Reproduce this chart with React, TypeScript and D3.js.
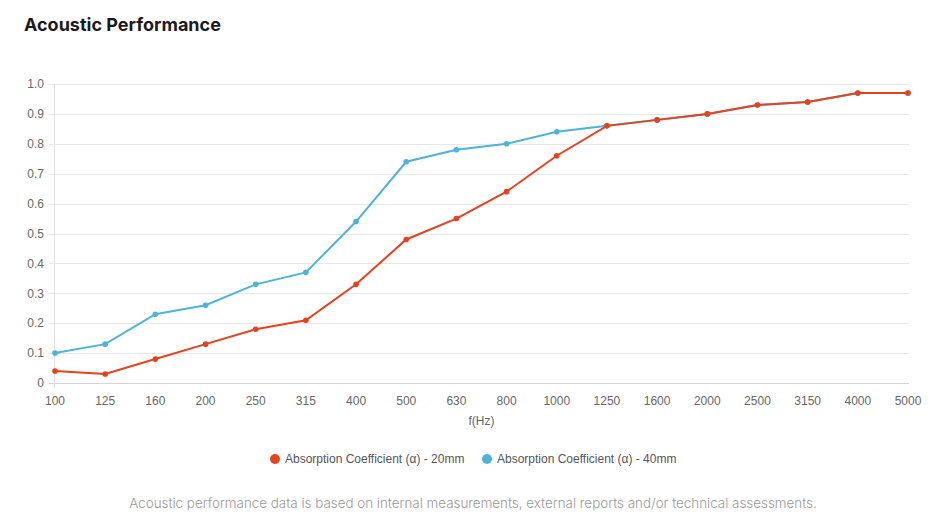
import React, { useRef, useEffect } from 'react';
import * as d3 from 'd3';

const frequencies = ['100', '125', '160', '200', '250', '315', '400', '500', '630', '800', '1000', '1250', '1600', '2000', '2500', '3150', '4000', '5000'];
const absorption20mm = [0.04, 0.03, 0.08, 0.13, 0.18, 0.21, 0.33, 0.48, 0.55, 0.64, 0.76, 0.86, 0.88, 0.90, 0.93, 0.94, 0.97, 0.97];
const absorption40mm = [0.10, 0.13, 0.23, 0.26, 0.33, 0.37, 0.54, 0.74, 0.78, 0.80, 0.84, 0.86, 0.88, 0.90, 0.93, 0.94, 0.97, 0.97];
const yTicks = [0, 0.1, 0.2, 0.3, 0.4, 0.5, 0.6, 0.7, 0.8, 0.9, 1.0];
const seriesNames = ['Absorption Coefficient (α) - 20mm', 'Absorption Coefficient (α) - 40mm'];
const seriesColors = ['#e8411c', '#4cb3dc'];

const WIDTH = 943;
const HEIGHT = 524;

const App: React.FC = () => {
  const svgRef = useRef<SVGSVGElement>(null);

  useEffect(() => {
    if (!svgRef.current) return;
    const svg = d3.select(svgRef.current);
    svg.selectAll('*').remove();

    const left = 55;
    const right = 908;
    const top = 84;
    const bottom = 383;

    const x = d3.scalePoint<string>().domain(frequencies).range([left, right]);
    const y = d3.scaleLinear().domain([0, 1]).range([bottom, top]);

    // Title
    svg.append('text')
      .attr('x', 24)
      .attr('y', 31)
      .attr('font-family', 'Inter, sans-serif')
      .attr('font-weight', 700)
      .attr('font-size', '18px')
      .attr('fill', '#1a1a1a')
      .text('Acoustic Performance');

    // Grid
    const grid = svg.append('g');
    grid.selectAll('line')
      .data(yTicks)
      .enter()
      .append('line')
      .attr('x1', left - 6)
      .attr('x2', right + 1)
      .attr('y1', (d) => Math.round(y(d)) + 0.5)
      .attr('y2', (d) => Math.round(y(d)) + 0.5)
      .attr('stroke', (d) => (d === 0 ? '#d4d4d4' : '#e8e8e8'))
      .attr('stroke-width', 1);

    grid.append('line')
      .attr('x1', left - 0.5)
      .attr('x2', left - 0.5)
      .attr('y1', top)
      .attr('y2', bottom + 5)
      .attr('stroke', '#e0e0e0');

    // Y labels
    svg.append('g')
      .selectAll('text')
      .data(yTicks)
      .enter()
      .append('text')
      .attr('x', 44)
      .attr('y', (d) => y(d))
      .attr('dy', '0.35em')
      .attr('text-anchor', 'end')
      .attr('font-family', 'Liberation Sans, Arial, sans-serif')
      .attr('font-size', '12px')
      .attr('fill', '#666')
      .text((d) => (d === 0 ? '0' : d.toFixed(1)));

    // X labels
    svg.append('g')
      .selectAll('text')
      .data(frequencies)
      .enter()
      .append('text')
      .attr('x', (d) => x(d) as number)
      .attr('y', 405)
      .attr('text-anchor', 'middle')
      .attr('font-family', 'Liberation Sans, Arial, sans-serif')
      .attr('font-size', '12px')
      .attr('fill', '#666')
      .text((d) => d);

    svg.append('text')
      .attr('x', (left + right) / 2)
      .attr('y', 425)
      .attr('text-anchor', 'middle')
      .attr('font-family', 'Liberation Sans, Arial, sans-serif')
      .attr('font-size', '12px')
      .attr('fill', '#666')
      .text('f(Hz)');

    // Lines
    const line = d3.line<number>()
      .x((_, i) => x(frequencies[i]) as number)
      .y((d) => y(d));

    const series = [absorption40mm, absorption20mm];
    const colors = [seriesColors[1], seriesColors[0]];
    series.forEach((values, si) => {
      const g = svg.append('g');
      g.append('path')
        .datum(values)
        .attr('d', line)
        .attr('fill', 'none')
        .attr('stroke', colors[si])
        .attr('stroke-width', 2);
      g.selectAll('circle')
        .data(values)
        .enter()
        .append('circle')
        .attr('cx', (_, i) => x(frequencies[i]) as number)
        .attr('cy', (d) => y(d))
        .attr('r', 2.8)
        .attr('fill', colors[si]);
    });

    // Legend
    const legendX = [275, 487];
    seriesNames.forEach((name, i) => {
      svg.append('circle')
        .attr('cx', legendX[i])
        .attr('cy', 459)
        .attr('r', 5)
        .attr('fill', seriesColors[i]);
      svg.append('text')
        .attr('x', legendX[i] + 10)
        .attr('y', 459)
        .attr('dy', '0.35em')
        .attr('font-family', 'Liberation Sans, Arial, sans-serif')
        .attr('font-size', '12px')
        .attr('fill', '#555')
        .text(name);
    });

    // Footer
    svg.append('text')
      .attr('x', 473)
      .attr('y', 508)
      .attr('text-anchor', 'middle')
      .attr('font-family', 'Inter, sans-serif')
      .attr('font-weight', 300)
      .attr('font-size', '13.4px')
      .attr('fill', '#999')
      .text('Acoustic performance data is based on internal measurements, external reports and/or technical assessments.');
  }, []);

  return (
    <svg
      ref={svgRef}
      width={WIDTH}
      height={HEIGHT}
      style={{ display: 'block', position: 'absolute', left: 0, top: 0, background: '#fff' }}
    />
  );
};

export default App;
